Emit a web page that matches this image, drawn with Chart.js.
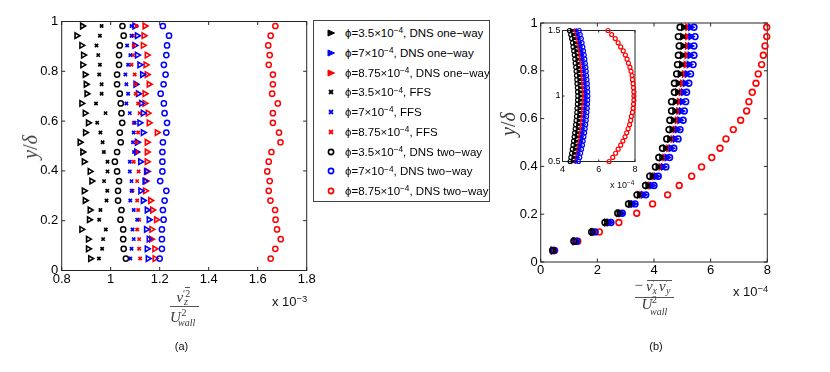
<!DOCTYPE html>
<html><head><meta charset="utf-8">
<script src="https://cdn.jsdelivr.net/npm/chart.js@4.4.1/dist/chart.umd.min.js"></script>
<style>
body{margin:0;background:#fff;width:830px;height:372px;overflow:hidden;position:relative;font-family:"Liberation Sans",Arial,sans-serif;}
canvas{position:absolute;}
.t{position:absolute;white-space:nowrap;color:#111;line-height:1;}
.m{position:absolute;white-space:nowrap;font-family:"Liberation Serif","DejaVu Serif",serif;font-style:italic;color:#3a3a3a;line-height:1;}
.r{font-style:normal;}
.ln{position:absolute;background:#555;height:1px;}
#legend{position:absolute;left:313px;top:19.5px;width:177px;height:182px;border:1px solid #444;box-sizing:border-box;background:#fff;}
.lr{position:absolute;left:0;height:14px;line-height:14px;font-size:11.5px;color:#000;white-space:nowrap;}
.lr svg{position:absolute;left:11px;top:1px;}
.lr span{position:absolute;left:31px;top:0;}
sup{font-size:0.72em;position:relative;top:-0.45em;vertical-align:baseline;line-height:0;}
.ylab{position:absolute;font-family:"Liberation Serif","DejaVu Serif",serif;font-size:20px;color:#3a3a3a;white-space:nowrap;transform:translate(-50%,-50%) rotate(-90deg);line-height:1;}
</style>
</head><body>
<canvas id="ca" width="330" height="300" style="left:0;top:0"></canvas>
<canvas id="cb" width="340" height="300" style="left:490px;top:0"></canvas>
<canvas id="ci" width="110" height="158" style="left:535px;top:22px"></canvas>
<div id="legend"></div>

<!-- panel (a) labels -->
<div class="ylab" style="left:30px;top:147px"><i>y</i>/<i>δ</i></div>
<div class="m" style="left:176.5px;top:290.4px;font-size:15px">v</div>
<div class="m r" style="left:183px;top:288.6px;font-size:10px">′2</div>
<div class="m" style="left:184px;top:297.1px;font-size:10px">z</div>
<div class="ln" style="left:185px;top:287px;width:5px"></div>
<div class="ln" style="left:170px;top:305.5px;width:28.5px"></div>
<div class="m" style="left:170px;top:310.4px;font-size:15px">U</div>
<div class="m r" style="left:181.5px;top:307.6px;font-size:10px">2</div>
<div class="m" style="left:178px;top:318.1px;font-size:10px">wall</div>
<div class="t" style="left:272px;top:295px;font-size:13px">x 10<sup>−3</sup></div>
<div class="t" style="left:181.5px;top:341px;font-size:11px;transform:translateX(-50%)">(a)</div>

<!-- panel (b) labels -->
<div class="ylab" style="left:508px;top:124px"><i>y</i>/<i>δ</i></div>
<div class="m r" style="left:634.5px;top:278.2px;font-size:15px">−</div>
<div class="m" style="left:646px;top:279.4px;font-size:15px">v</div>
<div class="m r" style="left:652.5px;top:279px;font-size:9px">′</div>
<div class="m" style="left:652.5px;top:285.6px;font-size:10px">x</div>
<div class="m" style="left:659px;top:279.4px;font-size:15px">v</div>
<div class="m r" style="left:665.5px;top:279px;font-size:9px">′</div>
<div class="m" style="left:666px;top:286px;font-size:10px">y</div>
<div class="ln" style="left:646.5px;top:280px;width:25px"></div>
<div class="ln" style="left:635px;top:296.5px;width:38.5px"></div>
<div class="m" style="left:641.5px;top:297.4px;font-size:15px">U</div>
<div class="m r" style="left:652px;top:295.1px;font-size:10px">2</div>
<div class="m" style="left:650px;top:306.6px;font-size:10px">wall</div>
<div class="t" style="left:733px;top:285px;font-size:13px">x 10<sup>−4</sup></div>
<div class="t" style="left:610px;top:180.5px;font-size:9px">x 10<sup>−4</sup></div>
<div class="t" style="left:656px;top:341px;font-size:11px;transform:translateX(-50%)">(b)</div>

<script>
// ---------- rows (y/δ), top to bottom ----------
const yRows = [0.982, 0.943, 0.904, 0.865, 0.826, 0.787, 0.748, 0.710, 0.671, 0.632, 0.593, 0.554, 0.515, 0.476, 0.437, 0.398, 0.359, 0.320, 0.281, 0.243, 0.204, 0.165, 0.126, 0.087, 0.048];

// ---------- panel (a): v_z'^2/U_wall^2 (x 1e-3) ----------
const aTri35  = [0.884, 0.861, 0.881, 0.888, 0.885, 0.895, 0.899, 0.902, 0.881, 0.895, 0.908, 0.896, 0.874, 0.885, 0.891, 0.915, 0.922, 0.891, 0.895, 0.915, 0.912, 0.881, 0.908, 0.908, 0.917];
const aTri7   = [1.098, 1.108, 1.098, 1.108, 1.118, 1.129, 1.102, 1.112, 1.125, 1.132, 1.118, 1.132, 1.108, 1.105, 1.121, 1.145, 1.139, 1.122, 1.132, 1.148, 1.156, 1.145, 1.156, 1.148, 1.152];
const aTri875 = [1.139, 1.135, 1.132, 1.148, 1.143, 1.148, 1.156, 1.139, 1.139, 1.152, 1.156, 1.189, 1.148, 1.148, 1.148, 1.149, 1.143, 1.141, 1.162, 1.170, 1.186, 1.167, 1.166, 1.179, 1.180];
const aFfs35  = [0.963, 0.956, 0.942, 0.949, 0.956, 0.953, 0.963, 0.963, 0.940, 0.979, 0.945, 0.958, 0.967, 0.972, 0.987, 0.987, 0.973, 0.986, 0.983, 0.958, 0.953, 0.980, 0.969, 0.965, 0.952];
const aFfs7   = [1.085, 1.085, 1.067, 1.080, 1.071, 1.060, 1.064, 1.071, 1.064, 1.078, 1.098, 1.094, 1.091, 1.095, 1.078, 1.078, 1.085, 1.085, 1.080, 1.094, 1.108, 1.089, 1.094, 1.085, 1.080];
const aFfs875 = [1.105, 1.091, 1.094, 1.091, 1.085, 1.098, 1.102, 1.102, 1.112, 1.118, 1.094, 1.112, 1.105, 1.105, 1.094, 1.114, 1.108, 1.089, 1.108, 1.112, 1.116, 1.108, 1.116, 1.116, 1.120];
const aTwo35  = [1.048, 1.053, 1.037, 1.034, 1.034, 1.026, 1.026, 1.037, 1.041, 1.044, 1.047, 1.037, 1.041, 1.026, 1.017, 1.026, 1.034, 1.030, 1.030, 1.044, 1.040, 1.051, 1.051, 1.053, 1.062];
const aTwo7   = [1.213, 1.238, 1.230, 1.227, 1.217, 1.224, 1.216, 1.204, 1.217, 1.220, 1.230, 1.227, 1.213, 1.211, 1.211, 1.211, 1.202, 1.227, 1.220, 1.213, 1.216, 1.209, 1.209, 1.209, 1.200];
const aTwo875 = [1.672, 1.653, 1.643, 1.649, 1.645, 1.662, 1.662, 1.659, 1.682, 1.662, 1.662, 1.687, 1.693, 1.656, 1.645, 1.639, 1.649, 1.645, 1.652, 1.671, 1.673, 1.679, 1.694, 1.672, 1.653];

// ---------- panel (b): -v_x'v_y'/U_wall^2 (x 1e-4) ----------
const bTri35  = [5.04, 5.01, 5.02, 5.00, 4.97, 4.92, 4.85, 4.83, 4.75, 4.73, 4.68, 4.63, 4.55, 4.40, 4.27, 4.14, 3.93, 3.78, 3.48, 3.16, 2.76, 2.32, 1.83, 1.20, 0.43];
const bTri7   = [5.29, 5.30, 5.28, 5.27, 5.24, 5.17, 5.10, 5.04, 5.00, 4.96, 4.91, 4.82, 4.75, 4.60, 4.46, 4.33, 4.08, 3.93, 3.63, 3.27, 2.84, 2.43, 1.89, 1.25, 0.46];
const bTri875 = [5.19, 5.18, 5.18, 5.16, 5.13, 5.07, 5.00, 4.96, 4.90, 4.87, 4.82, 4.74, 4.67, 4.52, 4.38, 4.25, 4.02, 3.87, 3.57, 3.23, 2.81, 2.39, 1.87, 1.23, 0.45];
const bFfs35  = [5.07, 5.04, 5.05, 5.03, 5.00, 4.95, 4.87, 4.85, 4.77, 4.76, 4.70, 4.65, 4.57, 4.42, 4.28, 4.16, 3.94, 3.79, 3.49, 3.17, 2.77, 2.33, 1.84, 1.20, 0.44];
const bFfs7   = [5.26, 5.27, 5.25, 5.24, 5.21, 5.14, 5.08, 5.02, 4.97, 4.94, 4.89, 4.80, 4.73, 4.58, 4.44, 4.31, 4.06, 3.91, 3.62, 3.26, 2.83, 2.42, 1.88, 1.24, 0.46];
const bFfs875 = [5.17, 5.15, 5.15, 5.13, 5.10, 5.04, 4.97, 4.93, 4.87, 4.84, 4.80, 4.72, 4.65, 4.50, 4.36, 4.23, 4.00, 3.85, 3.55, 3.21, 2.80, 2.37, 1.86, 1.22, 0.45];
const bTwo35  = [4.92, 4.86, 4.89, 4.86, 4.83, 4.80, 4.72, 4.72, 4.62, 4.62, 4.56, 4.53, 4.45, 4.30, 4.17, 4.05, 3.85, 3.70, 3.40, 3.10, 2.72, 2.27, 1.80, 1.17, 0.42];
const bTwo7   = [5.41, 5.45, 5.41, 5.41, 5.38, 5.29, 5.23, 5.15, 5.12, 5.07, 5.03, 4.92, 4.85, 4.70, 4.55, 4.42, 4.15, 4.00, 3.71, 3.33, 2.88, 2.48, 1.92, 1.27, 0.47];
const bTwo875 = [7.98, 7.98, 7.92, 7.86, 7.80, 7.68, 7.60, 7.47, 7.35, 7.27, 7.06, 6.80, 6.54, 6.33, 6.04, 5.68, 5.33, 4.89, 4.48, 3.95, 3.39, 2.76, 2.07, 1.31, 0.49];

// ---------- inset (b): y from 1.5 down to 0.5 ----------
const yInset  = [1.500, 1.469, 1.438, 1.406, 1.375, 1.344, 1.313, 1.281, 1.250, 1.219, 1.188, 1.156, 1.125, 1.094, 1.063, 1.031, 1.000, 0.969, 0.938, 0.906, 0.875, 0.844, 0.813, 0.781, 0.750, 0.719, 0.688, 0.656, 0.625, 0.594, 0.563, 0.531, 0.500];
const iTri35  = [4.50, 4.57, 4.62, 4.67, 4.70, 4.74, 4.77, 4.80, 4.82, 4.85, 4.87, 4.89, 4.91, 4.92, 4.94, 4.95, 4.96, 4.95, 4.94, 4.92, 4.91, 4.89, 4.87, 4.84, 4.82, 4.79, 4.76, 4.73, 4.70, 4.66, 4.62, 4.58, 4.54];
const iTri7   = [4.80, 4.86, 4.92, 4.96, 5.00, 5.04, 5.08, 5.11, 5.14, 5.17, 5.19, 5.21, 5.23, 5.25, 5.26, 5.27, 5.28, 5.27, 5.26, 5.25, 5.23, 5.21, 5.19, 5.16, 5.13, 5.10, 5.06, 5.02, 4.98, 4.93, 4.88, 4.83, 4.76];
const iTri875 = [4.70, 4.77, 4.82, 4.87, 4.90, 4.94, 4.97, 5.00, 5.02, 5.05, 5.07, 5.09, 5.11, 5.12, 5.14, 5.15, 5.16, 5.15, 5.14, 5.12, 5.11, 5.09, 5.07, 5.04, 5.02, 4.99, 4.96, 4.93, 4.90, 4.86, 4.82, 4.78, 4.74];
const iFfs35  = [4.54, 4.61, 4.66, 4.71, 4.74, 4.78, 4.81, 4.84, 4.86, 4.89, 4.91, 4.93, 4.95, 4.96, 4.98, 4.99, 5.00, 4.99, 4.98, 4.96, 4.95, 4.93, 4.91, 4.88, 4.86, 4.83, 4.80, 4.77, 4.74, 4.70, 4.66, 4.62, 4.58];
const iFfs7   = [4.76, 4.82, 4.88, 4.92, 4.96, 5.00, 5.04, 5.07, 5.10, 5.13, 5.15, 5.17, 5.19, 5.21, 5.22, 5.23, 5.24, 5.23, 5.22, 5.21, 5.19, 5.17, 5.15, 5.12, 5.09, 5.06, 5.02, 4.98, 4.94, 4.89, 4.84, 4.79, 4.72];
const iFfs875 = [4.66, 4.73, 4.78, 4.83, 4.86, 4.90, 4.93, 4.96, 4.98, 5.01, 5.03, 5.05, 5.07, 5.08, 5.10, 5.11, 5.12, 5.11, 5.10, 5.08, 5.07, 5.05, 5.03, 5.00, 4.98, 4.95, 4.92, 4.89, 4.86, 4.82, 4.78, 4.74, 4.70];
const iTwo35  = [4.38, 4.45, 4.50, 4.55, 4.58, 4.62, 4.65, 4.68, 4.70, 4.73, 4.75, 4.77, 4.79, 4.80, 4.82, 4.83, 4.84, 4.83, 4.82, 4.80, 4.79, 4.77, 4.75, 4.72, 4.70, 4.67, 4.64, 4.61, 4.58, 4.54, 4.50, 4.46, 4.42];
const iTwo7   = [4.92, 4.98, 5.04, 5.08, 5.12, 5.16, 5.20, 5.23, 5.26, 5.29, 5.31, 5.33, 5.35, 5.37, 5.38, 5.39, 5.40, 5.39, 5.38, 5.37, 5.35, 5.33, 5.31, 5.28, 5.25, 5.22, 5.18, 5.14, 5.10, 5.05, 5.00, 4.95, 4.88];
const iTwo875 = [6.51, 6.71, 6.91, 7.07, 7.21, 7.35, 7.47, 7.56, 7.64, 7.72, 7.78, 7.84, 7.86, 7.90, 7.92, 7.94, 7.94, 7.94, 7.92, 7.90, 7.86, 7.80, 7.76, 7.70, 7.62, 7.54, 7.45, 7.33, 7.21, 7.07, 6.93, 6.77, 6.57];

// ---------- ticks ----------
const aXTicks = [0.8, 1, 1.2, 1.4, 1.6, 1.8];
const aXLabels = ['0.8', '1', '1.2', '1.4', '1.6', '1.8'];
const yTicks = [0, 0.2, 0.4, 0.6, 0.8, 1];
const yLabels = ['0', '0.2', '0.4', '0.6', '0.8', '1'];
const bXTicks = [0, 2, 4, 6, 8];
const bXLabels = ['0', '2', '4', '6', '8'];
const iXTicks = [4, 6, 8];
const iXLabels = ['4', '6', '8'];
const iYTicks = [0.5, 1, 1.5];
const iYLabels = ['0.5', '1', '1.5'];

// ---------- legend ----------
const legendLabels = [
  'ϕ=3.5×10<sup>−4</sup>, DNS one−way',
  'ϕ=7×10<sup>−4</sup>, DNS one−way',
  'ϕ=8.75×10<sup>−4</sup>, DNS one−way',
  'ϕ=3.5×10<sup>−4</sup>, FFS',
  'ϕ=7×10<sup>−4</sup>, FFS',
  'ϕ=8.75×10<sup>−4</sup>, FFS',
  'ϕ=3.5×10<sup>−4</sup>, DNS two−way',
  'ϕ=7×10<sup>−4</sup>, DNS two−way',
  'ϕ=8.75×10<sup>−4</sup>, DNS two−way'
];
const colors = ['#000000', '#0000ff', '#ff0000'];
const kinds = ['tri', 'x', 'o'];

(function buildLegend(){
  const box = document.getElementById('legend');
  legendLabels.forEach((lab, k) => {
    const kind = kinds[Math.floor(k / 3)], c = colors[k % 3];
    let mk;
    if (kind === 'tri') mk = `<polygon points="3,3 9.5,6 3,9" fill="${c}" stroke="${c}" stroke-width="1"/>`;
    else if (kind === 'x') mk = `<path d="M4,4 L8,8 M8,4 L4,8" stroke="${c}" stroke-width="1.8"/>`;
    else mk = `<circle cx="6" cy="6" r="2.6" fill="none" stroke="${c}" stroke-width="1.6"/>`;
    const row = document.createElement('div');
    row.className = 'lr';
    row.style.top = (33 + 19.75 * k - 20.5 - 7) + 'px';
    row.innerHTML = `<svg width="12" height="12">${mk}</svg><span>${lab}</span>`;
    box.appendChild(row);
  });
})();

// ---------- chart helpers ----------
Chart.defaults.font.family = '"Liberation Sans", Arial, sans-serif';

const boxPlugin = {
  id: 'box',
  beforeDatasetsDraw(chart, args, opts) {
    const {ctx, chartArea: a, scales} = chart;
    ctx.save();
    if (opts.fill) { ctx.fillStyle = '#fff'; ctx.fillRect(a.left, a.top, a.width, a.height); }
    ctx.strokeStyle = '#262626';
    ctx.lineWidth = 1;
    ctx.strokeRect(a.left, a.top, a.width, a.height);
    const t = opts.tick;
    ctx.beginPath();
    scales.x.ticks.forEach(tk => {
      const p = scales.x.getPixelForValue(tk.value);
      ctx.moveTo(p, a.bottom); ctx.lineTo(p, a.bottom - t);
      ctx.moveTo(p, a.top); ctx.lineTo(p, a.top + t);
    });
    scales.y.ticks.forEach(tk => {
      const p = scales.y.getPixelForValue(tk.value);
      ctx.moveTo(a.left, p); ctx.lineTo(a.left + t, p);
      ctx.moveTo(a.right, p); ctx.lineTo(a.right - t, p);
    });
    ctx.stroke();
    ctx.restore();
  }
};

function mkDataset(xs, ys, kind, color, s) {
  const base = {
    data: xs.map((x, i) => ({x: x, y: ys[i]})),
    showLine: false, clip: false,
    borderColor: color, pointBorderColor: color,
    pointHoverRadius: 0
  };
  if (kind === 'tri') Object.assign(base, {pointStyle: 'triangle', rotation: 90, pointRadius: s.tri, pointBorderWidth: s.triW, pointBackgroundColor: 'rgba(0,0,0,0)', order: 3});
  else if (kind === 'x') Object.assign(base, {pointStyle: 'crossRot', pointRadius: s.x, pointBorderWidth: s.xW, pointBackgroundColor: color, order: 2});
  else Object.assign(base, {pointStyle: 'circle', pointRadius: s.o, pointBorderWidth: s.oW, pointBackgroundColor: 'rgba(0,0,0,0)', order: 1});
  return base;
}

function makeChart(id, groups, ys, cfg) {
  const datasets = [];
  groups.forEach((g, gi) => g.forEach((xs, ci) => datasets.push(mkDataset(xs, ys, kinds[gi], colors[ci], cfg.size))));
  return new Chart(document.getElementById(id), {
    type: 'scatter',
    data: {datasets},
    options: {
      animation: false, responsive: false, devicePixelRatio: 1, events: [],
      layout: {padding: cfg.pad},
      plugins: {legend: {display: false}, tooltip: {enabled: false}, box: {fill: cfg.fill, tick: cfg.tick}},
      scales: {
        x: {
          type: 'linear', min: cfg.xt[0], max: cfg.xt[cfg.xt.length - 1],
          afterBuildTicks: s => { s.ticks = cfg.xt.map(v => ({value: v})); },
          afterFit: s => { s.height = cfg.xh; },
          ticks: {callback: (v, i) => cfg.xl[i], font: {size: cfg.fs}, color: '#000', padding: cfg.xp, maxRotation: 0, minRotation: 0, autoSkip: false},
          grid: {display: false, drawTicks: false}, border: {display: false}
        },
        y: {
          type: 'linear', min: cfg.yt[0], max: cfg.yt[cfg.yt.length - 1],
          afterBuildTicks: s => { s.ticks = cfg.yt.map(v => ({value: v})); },
          afterFit: s => { s.width = cfg.yw; },
          ticks: {callback: (v, i) => cfg.yl[i], font: {size: cfg.fs}, color: '#000', padding: cfg.yp, autoSkip: false},
          grid: {display: false, drawTicks: false}, border: {display: false}
        }
      }
    },
    plugins: [boxPlugin]
  });
}

// panel (a)
makeChart('ca', [[aTri35, aTri7, aTri875], [aFfs35, aFfs7, aFfs875], [aTwo35, aTwo7, aTwo875]], yRows, {
  pad: {top: 21.5, right: 23.3, bottom: 0, left: 0}, xh: 29.5, yw: 61.7,
  xt: aXTicks, xl: aXLabels, yt: yTicks, yl: yLabels, fs: 13, xp: 1.5, yp: 3.5, tick: 3.5, fill: false,
  size: {tri: 3.2, triW: 1.6, x: 2.3, xW: 1.7, o: 2.6, oW: 1.5}
});

// panel (b)
makeChart('cb', [[bTri35, bTri7, bTri875], [bFfs35, bFfs7, bFfs875], [bTwo35, bTwo7, bTwo875]], yRows, {
  pad: {top: 23, right: 62.7, bottom: 0, left: 0}, xh: 38, yw: 50.7,
  xt: bXTicks, xl: bXLabels, yt: yTicks, yl: yLabels, fs: 13, xp: 1, yp: 3, tick: 3.5, fill: false,
  size: {tri: 3.3, triW: 1.6, x: 2.4, xW: 1.7, o: 2.9, oW: 1.6}
});

// inset of (b)
makeChart('ci', [[iTri35, iTri7, iTri875], [iFfs35, iFfs7, iFfs875], [iTwo35, iTwo7, iTwo875]], yInset, {
  pad: {top: 8.5, right: 10, bottom: 0, left: 0}, xh: 18.5, yw: 27.5,
  xt: iXTicks, xl: iXLabels, yt: iYTicks, yl: iYLabels, fs: 9, xp: 2.5, yp: 2, tick: 2, fill: true,
  size: {tri: 2.2, triW: 1, x: 1.6, xW: 1.3, o: 2.0, oW: 1.2}
});
</script>
</body></html>
